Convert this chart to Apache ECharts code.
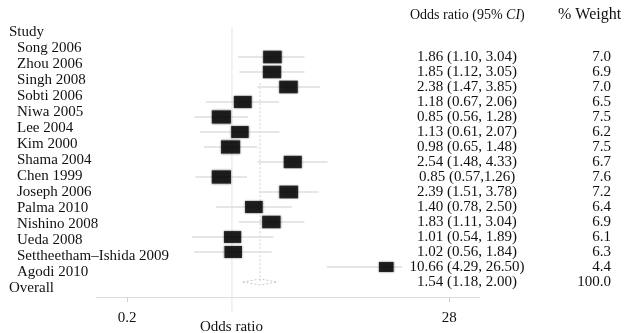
<!DOCTYPE html>
<html>
<head>
<meta charset="utf-8">
<script src="https://cdn.jsdelivr.net/npm/echarts@6/dist/echarts.min.js"></script>
<style>
  html, body { margin: 0; padding: 0; background: #fff; }
  #chart { width: 626px; height: 333px; }
</style>
</head>
<body>
<div id="chart"></div>
<script>
// forest plot, odds ratios on a log x axis
const studies = ['Song 2006', 'Zhou 2006', 'Singh 2008', 'Sobti 2006', 'Niwa 2005', 'Lee 2004',
  'Kim 2000', 'Shama 2004', 'Chen 1999', 'Joseph 2006', 'Palma 2010', 'Nishino 2008',
  'Ueda 2008', 'Settheetham\u2013Ishida 2009', 'Agodi 2010']
const oddsRatio = [1.86, 1.85, 2.38, 1.18, 0.85, 1.13, 0.98, 2.54, 0.85, 2.39, 1.40, 1.83, 1.01, 1.02, 10.66]
const lower = [1.10, 1.12, 1.47, 0.67, 0.56, 0.61, 0.65, 1.48, 0.57, 1.51, 0.78, 1.11, 0.54, 0.56, 4.29]
const upper = [3.04, 3.05, 3.85, 2.06, 1.28, 2.07, 1.48, 4.33, 1.26, 3.78, 2.50, 3.04, 1.89, 1.84, 26.50]
const weight = [7.0, 6.9, 7.0, 6.5, 7.5, 6.2, 7.5, 6.7, 7.6, 7.2, 6.4, 6.9, 6.1, 6.3, 4.4]
const ciText = ['1.86 (1.10, 3.04)', '1.85 (1.12, 3.05)', '2.38 (1.47, 3.85)', '1.18 (0.67, 2.06)',
  '0.85 (0.56, 1.28)', '1.13 (0.61, 2.07)', '0.98 (0.65, 1.48)', '2.54 (1.48, 4.33)',
  '0.85 (0.57,1.26)', '2.39 (1.51, 3.78)', '1.40 (0.78, 2.50)', '1.83 (1.11, 3.04)',
  '1.01 (0.54, 1.89)', '1.02 (0.56, 1.84)', '10.66 (4.29, 26.50)', '1.54 (1.18, 2.00)']
const overallOR = 1.54
const overallLower = 1.18
const overallUpper = 2.00
const overallWeight = 100.0
const xTicks = [0.2, 28]
const xRange = [0.1243, 44.9]

const serif = '"Liberation Serif", "Times New Roman", serif'
const ln = Math.log
const rowLabels = ['Study'].concat(studies, ['Overall'])
const weightText = weight.concat([overallWeight]).map(w => w.toFixed(1))
const overallRow = studies.length

const chart = echarts.init(document.getElementById('chart'))

chart.setOption({
    animation: false,
    grid: [
        { left: 96, right: 146, top: 27, bottom: 36, outerBoundsMode: 'none' },
        { left: 9, width: 1, top: 24, bottom: 37, outerBoundsMode: 'none' },
        { left: 402, width: 1, top: 27, bottom: 36, outerBoundsMode: 'none' },
    ],
    xAxis: [{
        gridIndex: 0,
        type: 'value',
        min: ln(xRange[0]),
        max: ln(xRange[1]),
        axisLine: { show: true, onZero: false, lineStyle: { color: '#dddddd', width: 1 } },
        axisTick: { show: true, length: 5, customValues: xTicks.map(ln), lineStyle: { color: '#d0d0d0' } },
        axisLabel: {
            customValues: xTicks.map(ln),
            margin: 14,
            color: '#111',
            fontFamily: serif,
            fontSize: 15,
            formatter: v => String(Number(Math.exp(v).toPrecision(2))),
        },
        splitLine: { show: false },
    }, {
        gridIndex: 1,
        type: 'value',
        show: false,
    }, {
        gridIndex: 2,
        type: 'value',
        show: false,
    }],
    yAxis: [{
        gridIndex: 0,
        type: 'value',
        inverse: true,
        min: -2,
        max: 16,
        show: false,
    }, {
        // study names
        gridIndex: 1,
        type: 'category',
        inverse: true,
        data: rowLabels,
        axisLine: { show: false },
        axisTick: { show: false },
        axisLabel: {
            interval: 0,
            margin: 0,
            align: 'left',
            color: '#111',
            fontFamily: serif,
            fontSize: 15,
            formatter: (v, i) => (i === 0 || i === rowLabels.length - 1) ? v : '{ind|' + v + '}',
            rich: {
                ind: { padding: [0, 0, 0, 8], color: '#111', fontFamily: serif, fontSize: 15 },
            },
        },
    }, {
        // odds ratio + weight columns, drawn above the CI lines
        gridIndex: 2,
        type: 'value',
        z: 10,
        inverse: true,
        min: -2,
        max: 16,
        interval: 1,
        axisLine: { show: false },
        axisTick: { show: false },
        splitLine: { show: false },
        axisLabel: {
            margin: 0,
            align: 'left',
            color: '#111',
            fontFamily: serif,
            fontSize: 15,
            formatter: v => {
                const i = Math.round(v)
                if (!ciText[i]) return ''
                return '{ci|' + ciText[i] + '}{w|' + weightText[i] + '}'
            },
            rich: {
                ci: {
                    width: 130, align: 'center', color: '#111', fontFamily: serif, fontSize: 15,
                    backgroundColor: '#fff',
                },
                w: { width: 79, align: 'right', color: '#111', fontFamily: serif, fontSize: 15 },
            },
        },
    }],
    graphic: [{
        type: 'text',
        left: 410,
        top: 8,
        style: {
            text: 'Odds ratio (95% {i|CI})',
            fill: '#111',
            font: '14px ' + serif,
            rich: { i: { fontStyle: 'italic', fontFamily: serif, fontSize: 14, fill: '#111' } },
        },
    }, {
        type: 'text',
        left: 558,
        top: 7,
        style: { text: '% Weight', fill: '#111', font: '16px ' + serif },
    }, {
        type: 'text',
        left: 200,
        top: 320,
        style: { text: 'Odds ratio', fill: '#111', font: '15px ' + serif },
    }],
    series: [{
        // reference line at OR = 1
        type: 'custom',
        xAxisIndex: 0,
        yAxisIndex: 0,
        clip: false,
        silent: true,
        data: [[ln(1), -2, 17.05]],
        renderItem: (params, api) => {
            const a = api.coord([api.value(0), api.value(1)])
            const b = api.coord([api.value(0), api.value(2)])
            return {
                type: 'line',
                shape: { x1: a[0], y1: a[1], x2: b[0], y2: b[1] },
                style: { stroke: '#e4e4e4', lineWidth: 1 },
            }
        },
    }, {
        // overall effect line
        type: 'custom',
        xAxisIndex: 0,
        yAxisIndex: 0,
        silent: true,
        data: [[ln(overallOR), 1.75, overallRow]],
        renderItem: (params, api) => {
            const a = api.coord([api.value(0), api.value(1)])
            const b = api.coord([api.value(0), api.value(2)])
            return {
                type: 'line',
                shape: { x1: a[0], y1: a[1], x2: b[0], y2: b[1] },
                style: { stroke: '#cfcfcf', lineWidth: 1, lineDash: [2, 2] },
            }
        },
    }, {
        // confidence intervals
        type: 'custom',
        xAxisIndex: 0,
        yAxisIndex: 0,
        silent: true,
        data: studies.map((s, i) => [ln(lower[i]), ln(upper[i]), i]),
        renderItem: (params, api) => {
            const a = api.coord([api.value(0), api.value(2)])
            const b = api.coord([api.value(1), api.value(2)])
            return {
                type: 'line',
                shape: { x1: a[0], y1: a[1], x2: b[0], y2: b[1] },
                style: { stroke: '#dedede', lineWidth: 1.5 },
            }
        },
    }, {
        // overall diamond
        type: 'custom',
        xAxisIndex: 0,
        yAxisIndex: 0,
        silent: true,
        data: [[ln(overallLower), ln(overallOR), ln(overallUpper), overallRow]],
        renderItem: (params, api) => {
            const y = api.value(3)
            const pts = [
                api.coord([api.value(0), y]),
                api.coord([api.value(1), y - 0.2]),
                api.coord([api.value(2), y]),
                api.coord([api.value(1), y + 0.2]),
            ]
            return {
                type: 'polygon',
                shape: { points: pts },
                style: { fill: 'none', stroke: '#c8c8c8', lineWidth: 1, lineDash: [2, 2] },
            }
        },
    }, {
        // study estimates, box size by weight
        type: 'scatter',
        xAxisIndex: 0,
        yAxisIndex: 0,
        symbol: 'rect',
        data: studies.map((s, i) => [ln(oddsRatio[i]), i, weight[i]]),
        symbolSize: d => [7 * Math.sqrt(d[2]), 4.8 * Math.sqrt(d[2])],
        itemStyle: { color: '#000', shadowBlur: 2, shadowColor: 'rgba(0,0,0,0.6)' },
    }],
})
</script>
</body>
</html>
